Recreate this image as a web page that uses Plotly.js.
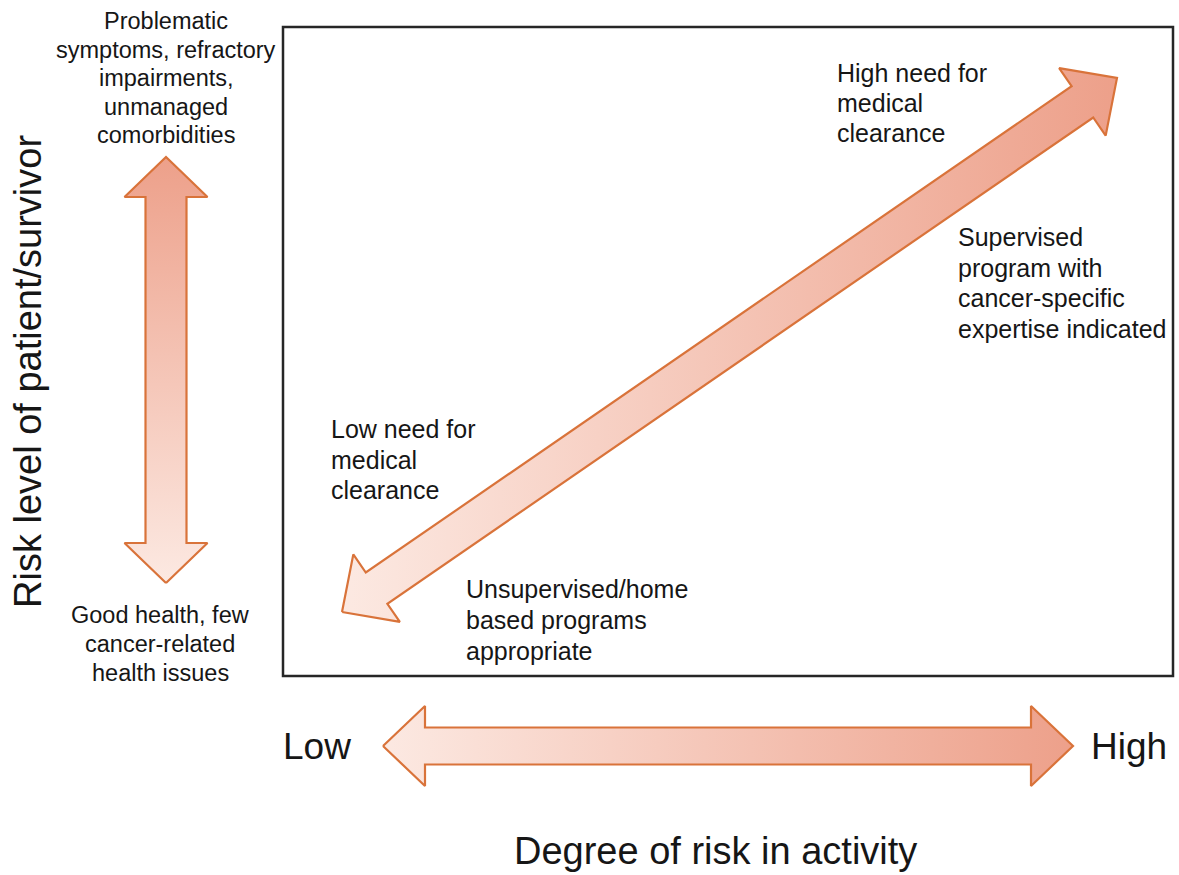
<!DOCTYPE html>
<html>
<head>
<meta charset="utf-8">
<script src="https://cdn.plot.ly/plotly-3.0.1.min.js"></script>
<style>html,body{margin:0;padding:0;background:#fff;}#chart{width:1179px;height:875px;}</style>
</head>
<body>
<div id="chart"></div>
<script>
// ---- content ----
var yAxisTitle = "Risk level of patient/survivor";
var xAxisTitle = "Degree of risk in activity";
var xEndLabels = ["Low", "High"];
var topPatientLines = ["Problematic", "symptoms, refractory", "impairments,", "unmanaged", "comorbidities"];
var bottomPatientLines = ["Good health, few", "cancer-related", "health issues"];
var highNeedLines = ["High need for", "medical", "clearance"];
var supervisedLines = ["Supervised", "program with", "cancer-specific", "expertise indicated"];
var lowNeedLines = ["Low need for", "medical", "clearance"];
var unsupervisedLines = ["Unsupervised/home", "based programs", "appropriate"];
var arrowNames = ["patientRisk", "activityRisk", "overall"];

// ---- geometry (pixel-like data units) ----
var arrowGeom = {
  patientRisk: {a: [166, 583], b: [166, 157], w: 41, hw: 83, hl: 40, grad: 'vertical', start: 583, stop: 157},
  activityRisk: {a: [383, 746], b: [1073, 746], w: 37, hw: 80, hl: 42, grad: 'horizontal', start: 383, stop: 1073},
  overall: {a: [342, 612], b: [1117, 78], w: 38, hw: 82, hl: 42, grad: 'horizontal', start: 342, stop: 1117}
};
var lightC = '#fce9e2', darkC = '#eda08a', edgeC = '#d9733a';

function arrowPoly(g) {
  var dx = g.b[0] - g.a[0], dy = g.b[1] - g.a[1];
  var L = Math.sqrt(dx * dx + dy * dy);
  var ux = dx / L, uy = dy / L, nx = -uy, ny = ux;
  function p(base, along, side) { return [base[0] + ux * along + nx * side, base[1] + uy * along + ny * side]; }
  var pts = [
    g.a,
    p(g.a, g.hl, g.hw / 2), p(g.a, g.hl, g.w / 2),
    p(g.b, -g.hl, g.w / 2), p(g.b, -g.hl, g.hw / 2),
    g.b,
    p(g.b, -g.hl, -g.hw / 2), p(g.b, -g.hl, -g.w / 2),
    p(g.a, g.hl, -g.w / 2), p(g.a, g.hl, -g.hw / 2),
    g.a
  ];
  return {x: pts.map(function (q) { return q[0]; }), y: pts.map(function (q) { return q[1]; })};
}

var traces = arrowNames.map(function (nm) {
  var g = arrowGeom[nm];
  var poly = arrowPoly(g);
  return {
    type: 'scatter', mode: 'lines', x: poly.x, y: poly.y, fill: 'toself',
    line: {color: edgeC, width: 2.2}, hoverinfo: 'skip', showlegend: false,
    fillgradient: {type: g.grad, colorscale: [[0, lightC], [1, darkC]], start: g.start, stop: g.stop}
  };
});

var annotations = [];
var txtC = '#161616';
var fam = 'Liberation Sans, Arial, sans-serif';
function addLines(lines, x, y0, dy, size, anchor) {
  lines.forEach(function (t, i) {
    annotations.push({xref: 'x', yref: 'y', x: x, y: y0 + i * dy, text: t, showarrow: false,
      xanchor: anchor, yanchor: 'middle', font: {family: fam, size: size, color: txtC}});
  });
}
addLines(topPatientLines, 166, 21, 28.5, 23.5, 'center');
addLines(bottomPatientLines, 160, 615, 29, 23.5, 'center');
addLines(highNeedLines, 835, 73, 30.2, 25, 'left');
addLines(supervisedLines, 956, 237, 30.5, 25, 'left');
addLines(lowNeedLines, 329, 429, 30.5, 25, 'left');
addLines(unsupervisedLines, 464, 589, 31, 25, 'left');
annotations.push({xref: 'x', yref: 'y', x: 281, y: 746, text: xEndLabels[0], showarrow: false, xanchor: 'left', yanchor: 'middle', font: {family: fam, size: 37, color: txtC}});
annotations.push({xref: 'x', yref: 'y', x: 1089, y: 746, text: xEndLabels[1], showarrow: false, xanchor: 'left', yanchor: 'middle', font: {family: fam, size: 37, color: txtC}});
annotations.push({xref: 'x', yref: 'y', x: 715, y: 851, text: xAxisTitle, showarrow: false, xanchor: 'center', yanchor: 'middle', font: {family: fam, size: 38, color: txtC}});
annotations.push({xref: 'x', yref: 'y', x: 28, y: 372, text: yAxisTitle, showarrow: false, textangle: -90, xanchor: 'center', yanchor: 'middle', font: {family: fam, size: 38, color: txtC}});

var layout = {
  width: 1179, height: 875,
  margin: {l: 0, r: 0, t: 0, b: 0},
  paper_bgcolor: '#ffffff', plot_bgcolor: '#ffffff',
  xaxis: {range: [0, 1179], visible: false, fixedrange: true},
  yaxis: {range: [875, 0], visible: false, fixedrange: true},
  showlegend: false,
  shapes: [{type: 'rect', xref: 'x', yref: 'y', x0: 283, x1: 1173, y0: 27, y1: 676, line: {color: '#262626', width: 2.5}, layer: 'below'}],
  annotations: annotations
};

Plotly.newPlot('chart', traces, layout, {displayModeBar: false, staticPlot: true});
</script>
</body>
</html>
